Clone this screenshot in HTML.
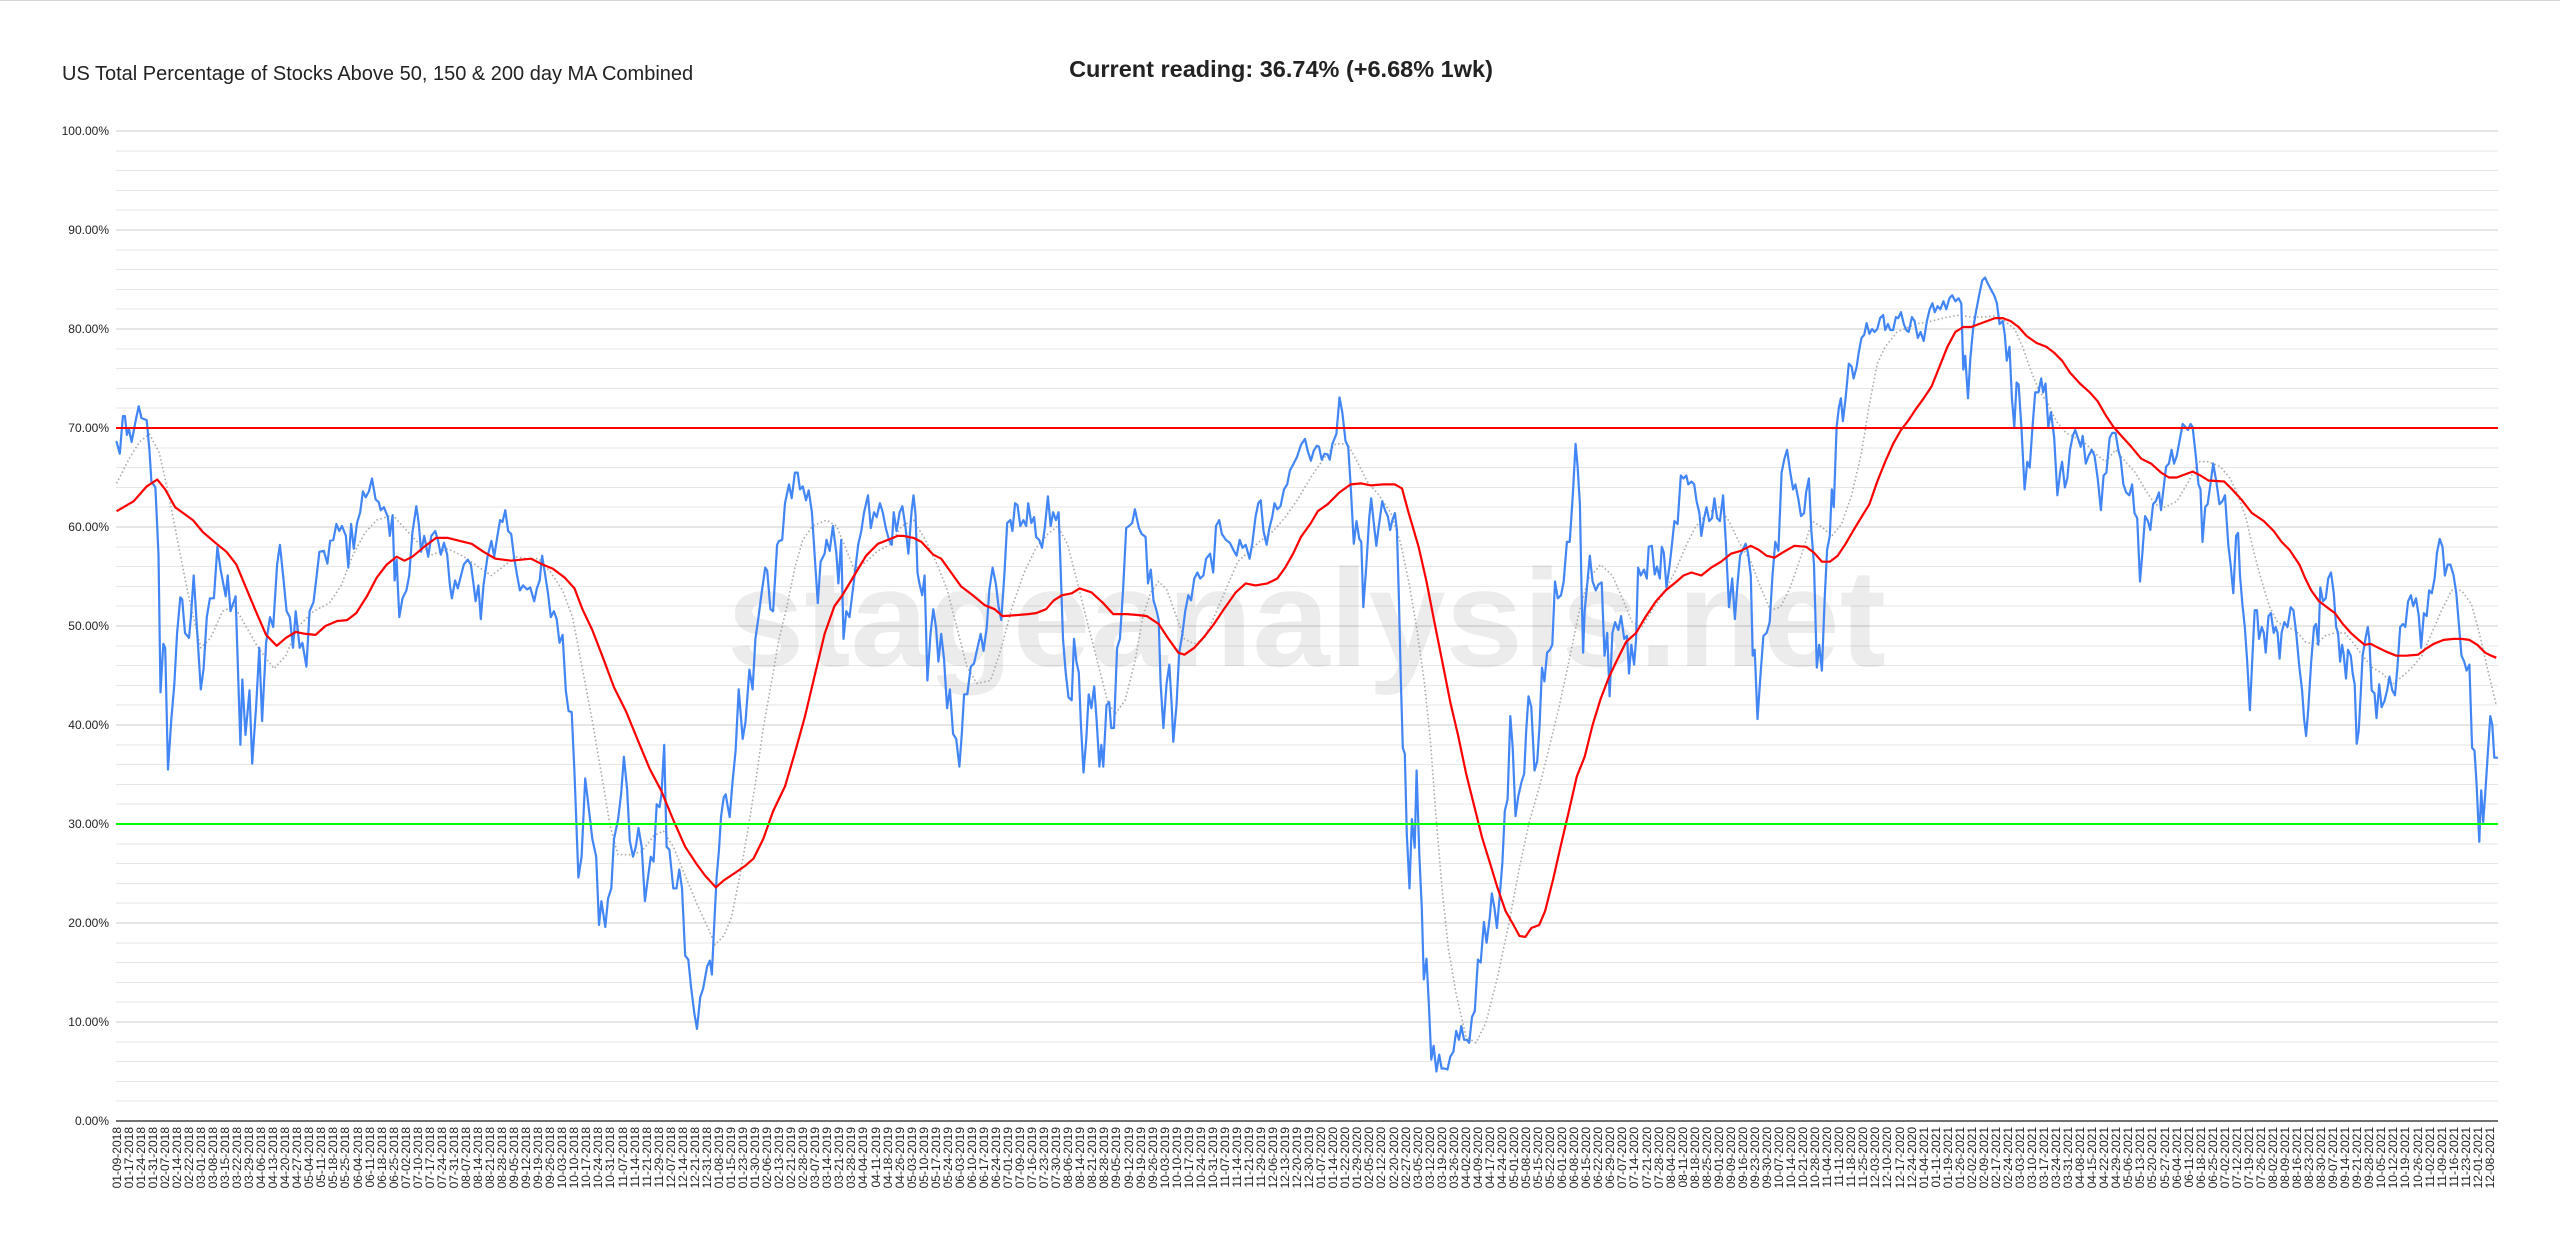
<!DOCTYPE html>
<html>
<head>
<meta charset="utf-8">
<style>
  html, body { margin:0; padding:0; background:#ffffff; }
  body { width:2560px; height:1250px; position:relative; overflow:hidden; font-family:"Liberation Sans", Arial, sans-serif; }
  svg { position:absolute; left:0; top:0; }
  .xlabels { position:absolute; left:110.575px; top:1126.5px; display:flex; align-items:flex-start; }
  .xlabels span { display:block; width:12.05px; writing-mode:vertical-rl; transform:rotate(180deg); font-size:12px; line-height:12.05px; color:#222; white-space:nowrap; font-family:"Liberation Sans", Arial, sans-serif; }
</style>
</head>
<body>
<svg width="2560" height="1250" viewBox="0 0 2560 1250" xmlns="http://www.w3.org/2000/svg">
  <rect x="0" y="0" width="2560" height="1250" fill="#ffffff"/>
  <line x1="0" y1="0.5" x2="2560" y2="0.5" stroke="#d6d6d6" stroke-width="1"/>

  <!-- titles -->
  <text x="62" y="80" font-family="Liberation Sans, Arial, sans-serif" font-size="20" fill="#222">US Total Percentage of Stocks Above 50, 150 &amp; 200 day MA Combined</text>
  <text x="1281" y="77" text-anchor="middle" font-family="Liberation Sans, Arial, sans-serif" font-size="23.5" font-weight="bold" fill="#222">Current reading: 36.74% (+6.68% 1wk)</text>

  <!-- minor gridlines -->
  <path shape-rendering="crispEdges" stroke="#e6e6e6" stroke-width="1" fill="none" d="M116 1101.2H2498M116 1081.4H2498M116 1061.6H2498M116 1041.8H2498M116 1002.2H2498M116 982.4H2498M116 962.6H2498M116 942.8H2498M116 903.2H2498M116 883.4H2498M116 863.6H2498M116 843.8H2498M116 804.2H2498M116 784.4H2498M116 764.6H2498M116 744.8H2498M116 705.2H2498M116 685.4H2498M116 665.6H2498M116 645.8H2498M116 606.2H2498M116 586.4H2498M116 566.6H2498M116 546.8H2498M116 507.2H2498M116 487.4H2498M116 467.6H2498M116 447.8H2498M116 408.2H2498M116 388.4H2498M116 368.6H2498M116 348.8H2498M116 309.2H2498M116 289.4H2498M116 269.6H2498M116 249.8H2498M116 210.2H2498M116 190.4H2498M116 170.6H2498M116 150.8H2498"/>
  <!-- major gridlines -->
  <path shape-rendering="crispEdges" stroke="#cccccc" stroke-width="1" fill="none" d="M116 1022H2498M116 923H2498M116 824H2498M116 725H2498M116 626H2498M116 527H2498M116 428H2498M116 329H2498M116 230H2498M116 131H2498"/>

  <!-- watermark -->
  <text x="727" y="666" font-family="Liberation Sans, Arial, sans-serif" font-size="139" font-weight="bold" fill="#000" fill-opacity="0.075" textLength="1159" lengthAdjust="spacingAndGlyphs">stageanalysis.net</text>

  <!-- y labels -->
  <g font-family="Liberation Sans, Arial, sans-serif" font-size="12" fill="#222" text-anchor="end">
    <text x="109" y="135">100.00%</text>
    <text x="109" y="234">90.00%</text>
    <text x="109" y="333">80.00%</text>
    <text x="109" y="432">70.00%</text>
    <text x="109" y="531">60.00%</text>
    <text x="109" y="630">50.00%</text>
    <text x="109" y="729">40.00%</text>
    <text x="109" y="828">30.00%</text>
    <text x="109" y="927">20.00%</text>
    <text x="109" y="1026">10.00%</text>
    <text x="109" y="1125">0.00%</text>
  </g>

  <!-- gray dotted MA -->
  <polyline fill="none" stroke="#a8a8a8" stroke-width="1.6" stroke-dasharray="1.5,2.5" stroke-linejoin="round" points="116.6,483.4 129.7,457.7 139.5,441.9 149.4,433.9 159.3,452.8 169.2,497.3 179.1,548.8 189,598.3 200.8,647.8 210.7,637.9 222.6,611.2 234.4,606.2 246.3,627 258.2,647.8 274,668.6 285.8,655.7 297.7,627 313.5,611.2 329.3,603.2 341.2,585.4 353.1,554.7 364.9,532.9 376.8,520.1 392.6,515.1 404.5,528 416.3,540.9 432.1,554.7 448,548.8 463.8,556.7 479.6,567.6 491.4,575.5 503.3,566.6 515.2,556.7 527,558.7 538.9,558.7 550.8,572.5 562.6,590.4 572.5,617.1 582.4,668.6 592.3,721 602.2,778.5 610.1,826 618,854.7 629.8,854.7 641.7,851.7 653.6,835.9 663.4,830.9 673.3,846.8 685.2,875.5 697,904.2 708.9,929.9 715,944.8 723.7,935.9 731.6,917.1 739.5,877.5 747.4,832.9 755.4,783.4 763.3,728 771.2,683.4 779.1,638.9 787,606.2 794.9,567.6 802.8,539.9 812.7,526 826.5,520.1 836.4,526 844.3,544.8 854.2,569.6 866.1,561.7 877.9,550.8 889.8,544.8 901.7,526 913.5,520.1 925.4,539.9 937.2,564.6 947.1,589.4 957,628 966.9,666.6 976.8,683.4 990.6,680.5 1000.5,650.8 1012.4,606.2 1024.2,572.5 1036.1,547.8 1047.9,534 1057.8,526 1067.7,544.8 1077.6,583.4 1087.5,623 1097.4,661.6 1107.3,700.3 1115.2,714.1 1125.1,700.3 1134.9,661.6 1142.8,617.1 1150.8,592.3 1158.7,581.5 1166.6,589.4 1174.5,611.2 1184.4,638.9 1194.3,643.8 1204.1,638.9 1214,617.1 1225.9,589.4 1237.7,561.7 1249.6,550.8 1261.5,539.9 1273.3,531 1285.2,517.1 1297.1,500.3 1311.9,475.5 1323.7,458.7 1335.6,443.8 1347.4,443.8 1357.3,461.7 1367.2,481.5 1379.1,495.3 1390.9,513.1 1400.8,543.8 1408.7,581.5 1416.6,627 1424.6,684.4 1430.5,741.8 1436.4,822 1442.3,891.3 1448.3,947.8 1456.2,994.3 1466.1,1036.9 1476,1042.8 1485.8,1023 1497.7,976.5 1509.6,920 1519.4,867.6 1529.3,822 1539.2,787.4 1549.1,747.8 1559,707.2 1568.9,661.6 1578.8,613.1 1588.6,578.5 1600.5,564.6 1612.4,575.5 1622.3,598.3 1632.1,622.1 1642,627 1651.9,610.2 1663.8,593.3 1675.6,570.6 1685.5,546.8 1695.4,527 1707.3,513.1 1719.1,507.2 1729,521.1 1738.9,541.9 1750.8,561.7 1760.6,587.4 1770.5,610.2 1780.4,607.2 1790.3,587.4 1802.2,552.7 1812,521.1 1821.9,527 1831.8,535.9 1841.7,524 1851.6,495.3 1861.5,452.8 1869.4,404.2 1877.3,363.7 1885.2,346.8 1897.1,332 1908.9,327 1915.8,324 1931.6,321.1 1947.4,317.1 1959.3,315.1 1971.2,317.1 1983,317.1 1994.9,316.1 2004.8,321.1 2014.7,329 2022.6,346.8 2030.5,369.6 2038.4,389.4 2048.3,404.2 2056.2,421.1 2066.1,433 2076,437.9 2085.8,443.8 2097.7,455.7 2105.6,461.7 2115.5,449.8 2125.4,461.7 2135.3,472.6 2145.1,489.4 2155,504.2 2164.9,507.2 2176.8,501.3 2188.6,481.5 2198.5,461.7 2208.4,461.7 2220.3,466.6 2230.2,478.5 2238.1,495.3 2246,518.1 2253.9,552.7 2261.8,581.5 2269.7,607.2 2277.6,622.1 2285.5,627 2295.4,630 2305.3,641.8 2315.2,644.8 2325.1,635.9 2334.9,632.9 2344.8,632.9 2354.7,644.8 2362.6,655.7 2372.5,667.6 2382.4,673.5 2392.3,684.4 2402.2,676.5 2412,667.6 2421.9,655.7 2431.8,632.9 2441.7,610.2 2451.6,590.4 2461.5,590.4 2471.4,604.2 2479.3,632.9 2487.2,667.6 2496.3,705.2"/>

  <!-- blue data series -->
  <polyline fill="none" stroke="#4285f4" stroke-width="2.2" stroke-linejoin="round" stroke-linecap="round" points="116.6,441.9 119.8,453.7 122.9,416.1 124.9,416.1 126.9,434.9 128.9,429 131.6,441.9 135.6,421.1 138.7,406.2 141.5,418.1 146.7,420.1 149.4,449.8 151.4,481.5 155.4,487.4 158.5,554.7 160.5,692.3 163.3,643.8 165.2,647.8 168,769.6 171.2,721 174.3,684.4 177.1,633 180.3,597.3 182.2,599.3 185,633 189,637.9 190.9,617.1 193.7,575.5 196.9,627 200.8,689.4 203.6,668.6 206.8,617.1 209.9,598.3 213.9,598.3 217.4,546.8 220.6,569.6 225.7,596.3 227.7,575.5 230.5,611.2 235.6,596.3 240.4,744.8 242.3,679.5 245.5,734.9 249.5,690.4 252.2,763.6 256.2,705.2 259.3,647.8 262.1,721 266.1,642.8 270,617.1 273.2,627 277.1,564.6 279.9,544.8 283.1,575.5 286.6,611.2 289.8,617.1 293,647.8 295.7,611.2 299.7,647.8 302.4,642.8 306.4,666.6 309.6,611.2 313.5,602.2 316.7,575.5 319.4,551.8 323.8,550.8 327.4,563.6 330.1,540.9 333.3,539.9 336.4,524 339.2,531 342,526 345.9,535.9 348.3,567.6 351.1,524 353.8,548.8 357,523 360.2,512.2 362.9,491.4 365.7,497.3 368.9,491.4 372,478.5 375.6,499.3 378.8,502.3 380.7,510.2 383.9,507.2 387.9,517.1 389.8,535.9 392.6,515.1 394.6,580.5 396.6,559.7 399.3,617.1 402.5,598.3 406.4,590.4 409.2,575.5 412.4,532.9 416.3,506.2 418.7,523 421.1,551.8 424.2,535.9 428.2,556.7 431.3,535.9 435.3,531 438.1,540.9 440.8,554.7 444,542.8 447.2,554.7 449.9,585.4 451.9,598.3 455.1,580.5 457.8,588.4 461,575.5 463.8,564.6 467.7,559.7 470.9,564.6 473.7,585.4 475.6,601.3 478.4,585.4 480.8,619.1 483.5,585.4 487.5,556.7 491.4,540.9 494.2,556.7 497.4,535.9 500.1,520.1 502.5,522 505.3,510.2 508.1,531 511.2,534 514,556.7 517.1,575.5 519.9,590.4 523.1,585.4 527,589.4 530.2,587.4 534.2,601.3 536.9,588.4 539.7,580.5 542.1,555.7 544.8,572.5 548,593.3 550.8,617.1 553.9,611.2 556.7,619.1 559.5,642.8 562.6,634.9 565.8,690.4 568.6,711.1 571.7,712.1 574.5,773.5 578.4,877.5 581.6,856.7 585.2,778.5 588.3,804.2 592.3,838.9 596.2,856.7 599,925 601.4,901.2 605.3,927 608.1,898.3 611.3,888.4 614,838.9 618,820 621.1,794.3 623.9,756.7 627.1,789.4 629.8,840.8 633,856.7 635.8,846.8 638.5,828 641.7,846.8 644.9,901.2 647.6,880.4 650.8,856.7 653.6,861.6 656.7,804.2 659.5,807.2 661.5,794.3 664.2,744.8 666.6,846.8 669.4,849.7 673.3,888.4 676.5,888.4 679.3,869.5 682,888.4 685.2,955.7 688.3,959.6 691.1,987.4 694.3,1013.1 697,1028.9 700.2,997.3 703.2,988.3 707.1,966.6 709.9,960.6 711.9,974.5 713.8,932.9 716.6,877.5 719,849.7 721,817.1 723.7,797.3 725.7,794.3 727.7,806.2 729.7,817.1 732.4,783.4 735.6,750.7 738.7,689.4 742.7,738.9 745.5,722 749.4,669.6 752.6,689.4 755.4,638.9 758.5,617.1 761.3,595.3 765.2,567.6 767.2,570.6 770.4,609.2 773.1,611.2 777.1,544.8 779.1,540.9 782.2,539.9 785,503.2 789,484.4 791.7,498.3 794.9,472.6 797.7,472.6 800,489.4 802.8,486.4 806,500.3 808.7,490.4 811.9,512.2 814.7,555.7 817.8,603.2 820.6,561.7 824.6,553.7 826.5,539.9 829.7,550.8 832.9,526 836.4,553.7 838.4,583.4 841.2,539.9 843.5,638.9 846.3,611.2 849.5,617.1 854.2,578.5 858.2,544.8 861.3,531 864.1,512.2 868,495.3 870.8,528 874,512.2 876.7,517.1 879.9,503.2 882.7,512.2 885.8,528 889,539.9 891.8,544.8 893.7,512.2 896.5,531 899.7,512.2 902.4,506.2 905.6,528 908.4,553.7 911.5,512.2 913.5,495.3 915.5,514.1 917.5,572.5 919.4,583.4 922.2,595.3 924.6,575.5 927.4,680.5 930.5,633.9 933.3,609.2 936.1,628 938.4,661.6 941.2,633.9 944,658.7 947.1,708.2 949.9,689.4 953.1,733.9 956.2,738.9 959.4,766.6 961.8,733.9 964.1,694.3 967.3,694.3 970.8,666.6 974,663.6 976.8,650.8 980.7,633.9 983.5,650.8 986.7,628 989.4,589.4 992.6,567.6 995.8,583.4 998.5,606.2 1001.3,620.1 1004.5,572.5 1007.2,523 1010.4,520.1 1012.4,531 1015.1,503.2 1017.5,505.2 1020.3,526 1023.4,520.1 1026.2,526 1028.2,503.2 1031.3,523 1034.1,517.1 1036.1,536.9 1039.2,539.9 1042,547.8 1044.8,528 1047.9,496.3 1050.7,526 1053.1,512.2 1055.9,520.1 1058.6,512.2 1060.6,567.6 1063,638.9 1065.7,672.5 1068.5,697.3 1071.7,700.3 1074,638.9 1076.4,661.6 1078.8,672.5 1080.8,722 1083.5,772.5 1086.3,738.9 1088.7,694.3 1091.4,708.2 1094.2,686.4 1096.6,720.1 1099.4,766.6 1101.3,744.8 1103.3,766.6 1106.5,705.2 1109.2,702.2 1111.2,728 1114,728 1117.1,647.8 1119.9,638.9 1123.1,589.4 1126.2,528 1129,526 1132.2,523 1134.9,509.2 1138.9,528 1141.7,534 1145.6,536.9 1148,583.4 1150.8,569.6 1153.5,600.3 1156.7,611.2 1158.7,620.1 1160.6,683.4 1163.4,728 1166.6,683.4 1169.3,664.6 1171.7,705.2 1173.3,741.8 1176.5,705.2 1179.2,652.7 1182.4,633.9 1185.2,611.2 1188.3,595.3 1191.1,600.3 1194.3,578.5 1197.4,572.5 1200.2,578.5 1203.4,575.5 1206.1,558.7 1210.1,553.7 1213.2,572.5 1216,526 1219.2,520.1 1221.9,534 1225.9,539.9 1229.8,542.8 1233.8,550.8 1236.6,555.7 1239.7,539.9 1242.5,547.8 1245.7,544.8 1249.6,558.7 1252.4,542.8 1255.5,517.1 1258.3,503.2 1260.7,500.3 1263.5,531 1266.6,544.8 1269.4,528 1272.2,517.1 1274.5,503.2 1277.3,509.2 1280.5,506.2 1284,489.4 1287.2,484.4 1289.9,470.6 1293.1,464.6 1297.1,456.7 1301,444.8 1305,438.9 1307.7,450.8 1310.9,460.7 1313.7,450.8 1316.8,445.8 1319,446.8 1321.7,459.7 1324.5,453.7 1327.7,454.7 1329.7,459.7 1332.4,443.8 1336.4,433.9 1339.5,397.3 1342.3,412.2 1345.5,440.9 1348.2,446.8 1350.6,484.4 1353.8,543.8 1356.5,521.1 1359.3,538.9 1361.3,541.9 1363.3,607.2 1366.4,564.6 1369.2,518.1 1371.2,498.3 1373.9,524 1376.3,545.8 1379.1,524 1382.2,501.3 1385,510.2 1387.8,516.1 1390.2,530 1392.1,521.1 1394.9,513.1 1396.9,530 1398.9,598.3 1400.8,678.5 1402.8,747.8 1404.8,753.7 1406.8,833.9 1409.5,888.4 1411.9,819.1 1414.7,847.8 1416.6,770.5 1419.4,856.7 1421.8,908.2 1423.8,979.4 1426.5,958.6 1428.9,1005.2 1431.3,1059.6 1433.6,1045.8 1436.4,1071.5 1439.2,1054.7 1441.6,1068.5 1444.3,1068.5 1447.5,1069.5 1450.3,1056.7 1453.4,1051.7 1456.2,1030.9 1459,1039.8 1461.3,1026 1464.1,1039.8 1466.9,1039.8 1469.2,1042.8 1472,1017 1474.8,1011.1 1477.9,959.6 1480.7,962.6 1483.9,922 1486.6,942.8 1489.8,917.1 1491.8,893.3 1494.5,908.2 1496.9,928 1499.7,896.3 1502.4,862.6 1504.8,811.1 1507.6,799.3 1510.3,716.1 1512.7,747.8 1515.5,816.1 1518.3,796.3 1521.4,782.4 1524.2,773.5 1526.2,730.9 1528.5,696.3 1531.3,707.2 1534.5,770.5 1537.2,761.6 1539.6,725 1542,667.6 1544.4,681.4 1547.1,652.7 1549.9,649.8 1552.3,644.8 1555,581.5 1557.8,598.3 1561,595.3 1563.7,581.5 1566.9,541.9 1569.7,541.9 1572.8,495.3 1575.6,443.8 1577.6,466.6 1579.9,504.2 1581.5,587.4 1583.1,652.7 1584.7,610.2 1587.5,581.5 1589.8,555.7 1592.6,581.5 1595.8,590.4 1598.5,584.4 1601.7,582.4 1604.5,655.7 1607.2,632.9 1609.6,696.3 1612.4,632.9 1615.1,622.1 1618.3,630 1621.1,616.1 1624.2,638.9 1627,635.9 1629,673.5 1631.3,644.8 1634.1,664.6 1636.1,638.9 1638.1,567.6 1640.8,575.5 1644,569.6 1646.8,578.5 1648.7,546.8 1651.9,545.8 1654.7,574.5 1657,566.6 1659.8,578.5 1661.8,546.8 1663.8,552.7 1666.5,587.4 1669.7,564.6 1671.7,546.8 1674.4,521.1 1677.6,524 1680.8,475.5 1683.5,478.5 1686.3,475.5 1688.3,484.4 1691.4,481.5 1694.2,484.4 1696.6,501.3 1699.4,513.1 1701.3,535.9 1704.1,518.1 1706.5,507.2 1709.2,521.1 1712,518.1 1714.4,498.3 1717.1,518.1 1719.9,521.1 1723.1,495.3 1725.9,543.8 1729,607.2 1732.2,578.5 1734.9,619.1 1737.7,581.5 1740.1,555.7 1742.8,549.8 1745.6,543.8 1748,552.7 1750.8,575.5 1752.7,655.7 1754.7,649.8 1757.5,719.1 1760.6,673.5 1763.4,635.9 1766.6,632.9 1769.7,622.1 1772.5,575.5 1775.3,541.9 1778.4,550.8 1781.6,472.6 1784.4,458.7 1787.1,449.8 1790.3,472.6 1793.1,489.4 1795.4,484.4 1798.2,498.3 1801,516.1 1804.1,513.1 1806.1,492.4 1808.9,478.5 1811.3,530 1814,564.6 1816.8,667.6 1819.2,644.8 1821.9,670.6 1824.7,598.3 1827.1,549.8 1829.8,535.9 1831.8,489.4 1833.8,507.2 1836.6,427 1838.9,407.2 1840.9,398.3 1842.9,421.1 1845.6,398.3 1848.8,363.7 1851.6,366.6 1853.6,378.5 1856.7,366.6 1858.7,352.8 1861.5,337.9 1864.2,334.9 1866.6,323.1 1869.4,333.9 1872.1,329 1874.5,332 1877.3,329 1880.1,318.1 1883.2,315.1 1885.2,330 1888,324 1890.3,330 1893.1,330 1895.9,317.1 1898.3,318.1 1901,312.2 1903.8,324 1906.2,330 1908.7,332 1911.9,317.1 1914.6,321.1 1917.8,337.9 1920.6,332 1923.7,340.9 1926.9,321.1 1929.7,309.2 1932.4,303.3 1934.8,312.2 1937.6,306.2 1940.3,309.2 1943.5,301.3 1946.3,309.2 1949.4,298.3 1952.2,295.3 1955.4,301.3 1958.5,298.3 1961.3,303.3 1963.3,369.6 1965.2,355.7 1968,398.3 1970.4,357.7 1973.1,329 1975.9,312.2 1979.1,295.3 1982.2,280.5 1985,277.5 1987.8,283.5 1990.9,289.4 1994.1,295.3 1996.9,303.3 1999.6,324 2002.8,321.1 2004.8,334.9 2006.8,360.7 2009.5,346.8 2011.9,398.3 2014.3,427 2016.6,382.5 2018.6,384.4 2021.4,427 2024.6,489.4 2027.3,461.7 2029.7,467.6 2032.5,427 2035.2,392.4 2038.4,392.4 2041.2,378.5 2043.1,392.4 2045.5,383.5 2048.3,427 2051,412.2 2054.2,437.9 2057.4,495.3 2060.1,472.6 2062.1,461.7 2064.9,487.4 2067.3,478.5 2070,449.8 2072.8,435.9 2075.2,430 2077.9,437.9 2080.7,446.8 2082.7,435.9 2085.8,463.6 2088.6,455.7 2091.8,449.8 2094.5,455.7 2097.7,478.5 2100.9,510.2 2103.6,475.5 2106.4,472.6 2109.6,437.9 2112.3,432.9 2115.5,432.9 2118.3,449.8 2120.6,458.7 2123.4,484.4 2126.2,492.4 2129.3,495.3 2132.1,484.4 2134.5,513.1 2137.2,518.1 2140,581.5 2142.4,552.7 2145.1,516.1 2147.9,521.1 2150.3,530 2153.1,504.2 2155.8,501.3 2159,492.4 2161,510.2 2163.7,487.4 2166.1,466.6 2168.9,463.6 2171.6,449.8 2174,463.6 2176.8,455.7 2179.5,440.9 2182.7,424 2185.5,427 2187.9,430 2190.6,424 2192.6,427 2195.8,455.7 2198.5,484.4 2200.5,489.4 2202.5,541.9 2205.2,507.2 2207.6,504.2 2210.4,484.4 2213.2,463.6 2216.3,481.5 2219.5,504.2 2222.3,501.3 2225,495.3 2228.2,543.8 2230.6,564.6 2233.3,593.3 2236.1,535.9 2238.1,532.9 2240,575.5 2242.4,604.2 2244.8,627 2247.2,661.6 2249.9,710.2 2251.9,667.6 2254.7,610.2 2257,610.2 2259,638.9 2261.8,627 2263.8,632.9 2265.7,652.7 2268.5,616.1 2270.9,613.1 2273.7,632.9 2275.6,627 2277.6,632.9 2279.6,658.7 2281.6,632.9 2284.3,622.1 2287.5,627 2290.7,607.2 2293.4,610.2 2296.2,632.9 2299.4,667.6 2302.1,690.4 2304.1,719.1 2306.1,735.9 2308.4,707.2 2311.2,661.6 2314,627 2316,624 2318.3,644.8 2320.3,587.4 2323.1,601.3 2325.8,598.3 2328.2,578.5 2331,572.5 2333.8,593.3 2336.1,627 2338.1,632.9 2340.1,661.6 2342.1,644.8 2343.6,653.7 2346,678.5 2348,649.8 2350.8,655.7 2352.7,673.5 2354.7,684.4 2356.7,743.8 2358.7,730.9 2360.6,696.3 2362.6,655.7 2365.4,638.9 2367.8,627 2369.3,638.9 2371.7,690.4 2374.5,693.3 2376.5,718.1 2379.2,684.4 2381.6,707.2 2384.4,701.2 2387.1,690.4 2389.5,676.5 2392.3,690.4 2395,695.3 2397.4,667.6 2400.2,627 2403,624 2405.3,627 2408.1,601.3 2410.9,595.3 2413.2,606.2 2416,598.3 2418.8,616.1 2421.1,647.8 2423.9,613.1 2426.7,616.1 2429.1,590.4 2431.8,593.3 2434.6,578.5 2437,552.7 2439.7,538.9 2442.5,546.8 2444.9,575.5 2447.6,564.6 2450.4,564.6 2453.6,575.5 2456.3,593.3 2458.7,622.1 2461.5,655.7 2464.2,661.6 2466.6,670.6 2469.4,664.6 2472.1,747.8 2474.5,750.7 2476.5,782.4 2479.3,841.8 2481.2,790.3 2483.2,822 2485.2,794.3 2488,750.7 2490.3,716.1 2492.3,725 2494.3,757.7 2497.1,757.7"/>

  <!-- red MA -->
  <polyline fill="none" stroke="#ff0000" stroke-width="2.2" stroke-linejoin="round" points="116.6,511.2 133.6,501.3 146.7,486.4 157.3,479.5 165.2,489.4 175.1,507.2 192.9,520.1 202.8,532 216.6,543.8 226.5,551.8 236.4,564.6 246.3,588.4 256.2,612.1 266.1,634.9 276.7,645.8 285.8,637.9 295.7,631.9 305.6,633.9 315.5,634.9 325.4,626 337.2,621 347.1,620.1 356.2,613.1 366.9,596.3 376.8,577.5 386.7,564.6 396.6,556.7 404.5,560.7 412.4,556.7 424.2,546.8 436.1,537.9 448,537.9 459.8,540.9 471.7,543.8 483.5,551.8 495.4,558.7 511.2,560.7 531,558.7 542.8,564.6 552.7,568.6 564.6,577.5 574.5,588.4 582.4,609.2 592.3,630 602.2,655.7 614,687.4 625.9,711.1 637.7,739.9 649.6,768.6 661.5,791.3 673.3,820 685.2,846.8 697,864.6 705,875.5 715.8,887.4 723.7,880.4 735.6,872.5 745.5,865.6 753.4,858.7 763.3,838.9 773.1,811.1 785,786.4 794.9,752.7 804.8,717.1 814.7,675.5 824.6,633.9 834.4,606.2 842.3,595.3 854.2,575.5 866.1,555.7 877.9,543.8 887.8,539.9 897.7,535.9 903.6,535.9 913.5,537.9 921.4,541.9 933.3,554.7 941.2,558.7 951.1,572.5 961,586.4 972.8,595.3 984.7,605.2 994.6,609.2 1002.5,616.1 1016.3,615.1 1028.2,614.1 1036.1,613.1 1046,609.2 1053.9,600.3 1061.8,595.3 1071.7,593.3 1079.6,588.4 1091.4,592.3 1103.3,603.2 1113.2,614.1 1127,614.1 1138.9,615.1 1146.8,616.1 1158.7,624 1168.5,638.9 1178.4,652.7 1184.4,654.7 1194.3,647.8 1204.1,636.9 1214,624 1223.9,609.2 1235.8,592.3 1245.7,583.4 1255.5,585.4 1267.4,583.4 1277.3,578.5 1285.2,567.6 1293.1,553.7 1301,536.9 1310.9,523 1317.8,511.2 1327.7,504.2 1339.5,492.4 1350.6,484.4 1361.3,483.4 1371.2,485.4 1383,484.4 1394.9,484.4 1402,488.4 1408.7,513.1 1418.6,546.8 1426.5,581.5 1434.4,622.1 1442.3,661.6 1450.3,702.2 1458.2,735.9 1466.1,773.5 1474,805.2 1481.9,836.9 1489.8,862.6 1497.7,888.4 1505.6,911.1 1513.5,925 1519.4,935.9 1525.4,936.9 1531.3,928 1539.2,925 1545.1,911.1 1553.1,879.4 1561,844.8 1568.9,811.1 1576.8,776.5 1584.7,756.7 1592.6,725 1600.5,699.3 1608.4,678.5 1616.3,661.6 1626.2,641.8 1636.1,632.9 1646,616.1 1655.9,601.3 1665.7,590.4 1675.6,582.4 1683.5,575.5 1691.4,572.5 1701.3,575.5 1711.2,567.6 1721.1,561.7 1731,553.7 1740.9,550.8 1750.8,545.8 1758.7,549.8 1766.6,555.7 1774.5,557.7 1782.4,552.7 1794.3,545.8 1806.1,546.8 1814,552.7 1821.9,561.7 1829.8,561.7 1837.7,555.7 1845.6,543.8 1853.6,530 1861.5,517.1 1869.4,504.2 1877.3,481.5 1885.2,461.7 1893.1,443.8 1901,430 1907.9,421.1 1915.8,409.2 1923.7,398.3 1931.6,386.4 1939.5,366.6 1947.4,346.8 1955.4,331.9 1963.3,327 1971.2,327 1979.1,324 1987,321.1 1994.9,318.1 2002.8,318.1 2010.7,321.1 2018.6,327 2026.5,335.9 2036.4,342.9 2046.3,346.8 2054.2,352.8 2062.1,360.7 2070,372.6 2079.9,383.5 2089.8,392.4 2097.7,401.3 2105.6,415.1 2113.5,427 2121.4,435.9 2131.3,446.8 2141.2,458.7 2151.1,463.6 2161,472.6 2168.9,477.5 2176.8,477.5 2184.7,474.5 2192.6,471.6 2200.5,475.5 2208.4,480.5 2224.2,481.5 2232.1,489.4 2242,500.3 2251.9,513.1 2263.8,521.1 2273.7,531 2281.6,541.9 2289.5,549.8 2299.4,564.6 2305.3,578.5 2311.2,590.4 2319.1,601.3 2327,607.2 2334.9,613.1 2342.8,624 2350.8,632.9 2358.7,639.9 2364.6,644.8 2370.5,643.8 2378.4,647.8 2386.3,651.7 2396.2,655.7 2406.1,655.7 2418,654.7 2425.9,648.8 2433.8,643.8 2443.7,639.9 2453.6,638.9 2461.5,638.9 2469.4,639.9 2477.3,644.8 2485.2,652.7 2491.1,655.7 2496.3,657.7"/>

  <!-- threshold lines -->
  <line x1="116" y1="428" x2="2498" y2="428" stroke="#ff0000" stroke-width="2"/>
  <line x1="116" y1="824" x2="2498" y2="824" stroke="#00ff00" stroke-width="2"/>

  <!-- x axis line -->
  <line x1="116" y1="1121" x2="2498" y2="1121" stroke="#444" stroke-width="1.5"/>
</svg>

<div class="xlabels">
<span>01-09-2018</span><span>01-17-2018</span><span>01-24-2018</span><span>01-31-2018</span><span>02-07-2018</span><span>02-14-2018</span><span>02-22-2018</span><span>03-01-2018</span><span>03-08-2018</span><span>03-15-2018</span><span>03-22-2018</span><span>03-29-2018</span><span>04-06-2018</span><span>04-13-2018</span><span>04-20-2018</span><span>04-27-2018</span><span>05-04-2018</span><span>05-11-2018</span><span>05-18-2018</span><span>05-25-2018</span><span>06-04-2018</span><span>06-11-2018</span><span>06-18-2018</span><span>06-25-2018</span><span>07-02-2018</span><span>07-10-2018</span><span>07-17-2018</span><span>07-24-2018</span><span>07-31-2018</span><span>08-07-2018</span><span>08-14-2018</span><span>08-21-2018</span><span>08-28-2018</span><span>09-05-2018</span><span>09-12-2018</span><span>09-19-2018</span><span>09-26-2018</span><span>10-03-2018</span><span>10-10-2018</span><span>10-17-2018</span><span>10-24-2018</span><span>10-31-2018</span><span>11-07-2018</span><span>11-14-2018</span><span>11-21-2018</span><span>11-29-2018</span><span>12-07-2018</span><span>12-14-2018</span><span>12-21-2018</span><span>12-31-2018</span><span>01-08-2019</span><span>01-15-2019</span><span>01-23-2019</span><span>01-30-2019</span><span>02-06-2019</span><span>02-13-2019</span><span>02-21-2019</span><span>02-28-2019</span><span>03-07-2019</span><span>03-14-2019</span><span>03-21-2019</span><span>03-28-2019</span><span>04-04-2019</span><span>04-11-2019</span><span>04-18-2019</span><span>04-26-2019</span><span>05-03-2019</span><span>05-10-2019</span><span>05-17-2019</span><span>05-24-2019</span><span>06-03-2019</span><span>06-10-2019</span><span>06-17-2019</span><span>06-24-2019</span><span>07-01-2019</span><span>07-09-2019</span><span>07-16-2019</span><span>07-23-2019</span><span>07-30-2019</span><span>08-06-2019</span><span>08-14-2019</span><span>08-21-2019</span><span>08-28-2019</span><span>09-05-2019</span><span>09-12-2019</span><span>09-19-2019</span><span>09-26-2019</span><span>10-03-2019</span><span>10-10-2019</span><span>10-17-2019</span><span>10-24-2019</span><span>10-31-2019</span><span>11-07-2019</span><span>11-14-2019</span><span>11-21-2019</span><span>11-29-2019</span><span>12-06-2019</span><span>12-13-2019</span><span>12-20-2019</span><span>12-30-2019</span><span>01-07-2020</span><span>01-14-2020</span><span>01-22-2020</span><span>01-29-2020</span><span>02-05-2020</span><span>02-12-2020</span><span>02-20-2020</span><span>02-27-2020</span><span>03-05-2020</span><span>03-12-2020</span><span>03-19-2020</span><span>03-26-2020</span><span>04-02-2020</span><span>04-09-2020</span><span>04-17-2020</span><span>04-24-2020</span><span>05-01-2020</span><span>05-08-2020</span><span>05-15-2020</span><span>05-22-2020</span><span>06-01-2020</span><span>06-08-2020</span><span>06-15-2020</span><span>06-22-2020</span><span>06-29-2020</span><span>07-07-2020</span><span>07-14-2020</span><span>07-21-2020</span><span>07-28-2020</span><span>08-04-2020</span><span>08-11-2020</span><span>08-18-2020</span><span>08-25-2020</span><span>09-01-2020</span><span>09-09-2020</span><span>09-16-2020</span><span>09-23-2020</span><span>09-30-2020</span><span>10-07-2020</span><span>10-14-2020</span><span>10-21-2020</span><span>10-28-2020</span><span>11-04-2020</span><span>11-11-2020</span><span>11-18-2020</span><span>11-25-2020</span><span>12-03-2020</span><span>12-10-2020</span><span>12-17-2020</span><span>12-24-2020</span><span>01-04-2021</span><span>01-11-2021</span><span>01-19-2021</span><span>01-26-2021</span><span>02-02-2021</span><span>02-09-2021</span><span>02-17-2021</span><span>02-24-2021</span><span>03-03-2021</span><span>03-10-2021</span><span>03-17-2021</span><span>03-24-2021</span><span>03-31-2021</span><span>04-08-2021</span><span>04-15-2021</span><span>04-22-2021</span><span>04-29-2021</span><span>05-06-2021</span><span>05-13-2021</span><span>05-20-2021</span><span>05-27-2021</span><span>06-04-2021</span><span>06-11-2021</span><span>06-18-2021</span><span>06-25-2021</span><span>07-02-2021</span><span>07-12-2021</span><span>07-19-2021</span><span>07-26-2021</span><span>08-02-2021</span><span>08-09-2021</span><span>08-16-2021</span><span>08-23-2021</span><span>08-30-2021</span><span>09-07-2021</span><span>09-14-2021</span><span>09-21-2021</span><span>09-28-2021</span><span>10-05-2021</span><span>10-12-2021</span><span>10-19-2021</span><span>10-26-2021</span><span>11-02-2021</span><span>11-09-2021</span><span>11-16-2021</span><span>11-23-2021</span><span>12-01-2021</span><span>12-08-2021</span>
</div>
</body>
</html>
